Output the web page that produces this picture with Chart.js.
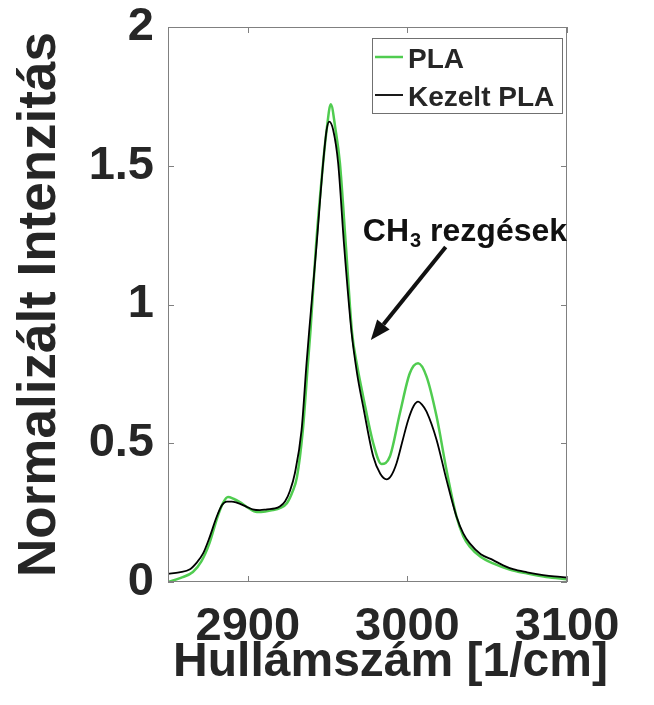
<!DOCTYPE html>
<html>
<head>
<meta charset="utf-8">
<title>PLA CH3</title>
<script src="https://cdn.jsdelivr.net/npm/chart.js@4.4.0/dist/chart.umd.min.js"></script>
<style>
  html, body { margin: 0; padding: 0; background: #fff; }
</style>
</head>
<body>
<canvas id="myChart" width="654" height="705"></canvas>
<script>
// data
const plaX = [2850, 2858, 2865.6, 2871, 2876, 2881, 2884.5, 2887.6, 2891, 2895, 2900, 2905.7, 2911, 2915.7, 2920, 2924.5, 2928, 2930.8, 2934.5, 2937.7, 2939.3, 2942.7, 2947.2, 2949.4, 2952, 2955, 2957.7, 2961.5, 2965.3, 2968.5, 2972.3, 2978.6, 2983.8, 2989, 2995.3, 3001.5, 3006.7, 3012, 3018.3, 3024.5, 3030.8, 3035, 3039.1, 3046, 3053.7, 3064, 3074.6, 3087, 3100];
const plaY = [0.00, 0.015, 0.036, 0.075, 0.14, 0.234, 0.285, 0.306, 0.300, 0.288, 0.268, 0.252, 0.254, 0.259, 0.266, 0.284, 0.325, 0.378, 0.548, 0.79, 0.908, 1.208, 1.51, 1.629, 1.722, 1.629, 1.51, 1.208, 0.90, 0.78, 0.668, 0.50, 0.425, 0.452, 0.608, 0.752, 0.788, 0.74, 0.596, 0.404, 0.235, 0.165, 0.127, 0.09, 0.067, 0.045, 0.031, 0.018, 0.01];

const kezeltX = [2850, 2857, 2863.8, 2868, 2872, 2876, 2880.5, 2884, 2886.8, 2890, 2893, 2899.3, 2903, 2907.6, 2912, 2917, 2920, 2923.3, 2926.5, 2929.5, 2933.7, 2936.8, 2938.5, 2943, 2947.2, 2949.4, 2951, 2953.5, 2956.6, 2960.4, 2965, 2968.5, 2972.3, 2978.6, 2983, 2986.9, 2990, 2993.2, 2997, 3000.5, 3004, 3006.7, 3009, 3012, 3018.3, 3024.5, 3030.8, 3035, 3039.1, 3046, 3053.7, 3060, 3066.2, 3075, 3085, 3092, 3100];
const kezeltY = [0.029, 0.035, 0.046, 0.07, 0.103, 0.16, 0.235, 0.278, 0.29, 0.290, 0.286, 0.271, 0.262, 0.259, 0.262, 0.265, 0.272, 0.29, 0.33, 0.392, 0.548, 0.788, 0.908, 1.208, 1.51, 1.629, 1.659, 1.629, 1.51, 1.208, 0.90, 0.75, 0.632, 0.452, 0.39, 0.37, 0.385, 0.428, 0.51, 0.584, 0.635, 0.65, 0.64, 0.614, 0.512, 0.368, 0.235, 0.175, 0.139, 0.10, 0.079, 0.06, 0.046, 0.035, 0.025, 0.02, 0.017];

const xTicks = [2900, 3000, 3100];
const yTicks = [0, 0.5, 1, 1.5, 2];
const seriesNames = ['PLA', 'Kezelt PLA'];

// annotation: text position and arrow (tail -> tip) in data units
const noteAt = { x: 2972.1, y: 1.229 };
const arrowFrom = { x: 3024, y: 1.207 };
const arrowTo = { x: 2977.1, y: 0.872 };

const FONT = "'Liberation Sans', Arial, sans-serif";
const TXT = '#262626';
const GREEN = '#50cc50';

const toPoints = (xs, ys) => xs.map((x, i) => ({ x: x, y: ys[i] }));

const extras = {
  id: 'extras',
  afterDraw(chart) {
    const ctx = chart.ctx;
    const ca = chart.chartArea;
    const sx = chart.scales.x, sy = chart.scales.y;
    ctx.save();

    // box + inward ticks
    ctx.strokeStyle = '#808080';
    ctx.lineWidth = 1;
    ctx.strokeRect(ca.left + 0.5, ca.top + 0.5, ca.right - ca.left - 1, ca.bottom - ca.top - 1);
    ctx.beginPath();
    xTicks.forEach(v => {
      const px = Math.round(sx.getPixelForValue(v)) + 0.5;
      ctx.moveTo(px, ca.bottom); ctx.lineTo(px, ca.bottom - 6);
      ctx.moveTo(px, ca.top); ctx.lineTo(px, ca.top + 6);
    });
    yTicks.forEach(v => {
      const py = Math.round(sy.getPixelForValue(v)) + 0.5;
      ctx.moveTo(ca.left, py); ctx.lineTo(ca.left + 6, py);
      ctx.moveTo(ca.right, py); ctx.lineTo(ca.right - 6, py);
    });
    ctx.stroke();

    // legend
    const lx = ca.right - 195, ly = ca.top + 11;
    ctx.fillStyle = '#fff';
    ctx.fillRect(lx, ly, 190, 75);
    ctx.strokeStyle = '#707070';
    ctx.strokeRect(lx + 0.5, ly + 0.5, 190, 75);
    const cols = [GREEN, '#000'];
    const widths = [2.5, 1.8];
    ctx.font = 'bold 28px ' + FONT;
    ctx.textAlign = 'left';
    ctx.textBaseline = 'alphabetic';
    seriesNames.forEach((name, i) => {
      const yy = ly + 19 + i * 38;
      ctx.strokeStyle = cols[i];
      ctx.lineWidth = widths[i];
      ctx.beginPath();
      ctx.moveTo(lx + 3, yy); ctx.lineTo(lx + 31, yy);
      ctx.stroke();
      ctx.fillStyle = TXT;
      ctx.fillText(name, lx + 36, yy + 11);
    });

    // annotation text
    let tx = sx.getPixelForValue(noteAt.x);
    const ty = sy.getPixelForValue(noteAt.y);
    ctx.fillStyle = '#111';
    ctx.font = 'bold 32px ' + FONT;
    ctx.fillText('CH', tx, ty);
    tx += ctx.measureText('CH').width + 1;
    ctx.font = 'bold 20px ' + FONT;
    ctx.fillText('3', tx, ty + 6);
    tx += ctx.measureText('3').width;
    ctx.font = 'bold 32px ' + FONT;
    ctx.fillText(' rezgések', tx, ty);

    // arrow
    const x0 = sx.getPixelForValue(arrowFrom.x), y0 = sy.getPixelForValue(arrowFrom.y);
    const x1 = sx.getPixelForValue(arrowTo.x), y1 = sy.getPixelForValue(arrowTo.y);
    const ang = Math.atan2(y1 - y0, x1 - x0);
    const hl = 20, hw = 8;
    const bx = x1 - hl * Math.cos(ang), by = y1 - hl * Math.sin(ang);
    ctx.strokeStyle = '#111';
    ctx.lineWidth = 4;
    ctx.beginPath();
    ctx.moveTo(x0, y0); ctx.lineTo(bx, by);
    ctx.stroke();
    ctx.fillStyle = '#111';
    ctx.beginPath();
    ctx.moveTo(x1, y1);
    ctx.lineTo(bx + hw * Math.sin(ang), by - hw * Math.cos(ang));
    ctx.lineTo(bx - hw * Math.sin(ang), by + hw * Math.cos(ang));
    ctx.closePath();
    ctx.fill();

    // axis titles
    ctx.fillStyle = TXT;
    ctx.font = 'bold 48px ' + FONT;
    ctx.textAlign = 'center';
    ctx.fillText('Hullámszám [1/cm]', (ca.left + ca.right) / 2 + 23, ca.bottom + 94);
    ctx.translate(55, (ca.top + ca.bottom) / 2);
    ctx.rotate(-Math.PI / 2);
    ctx.font = 'bold 53px ' + FONT;
    ctx.fillText('Normalizált Intenzitás', 0, 0);
    ctx.restore();
  }
};

const config = {
  type: 'line',
  data: {
    datasets: [
      {
        label: seriesNames[0],
        data: toPoints(plaX, plaY),
        borderColor: GREEN,
        borderWidth: 2.5,
        pointRadius: 0,
        cubicInterpolationMode: 'monotone',
        order: 1
      },
      {
        label: seriesNames[1],
        data: toPoints(kezeltX, kezeltY),
        borderColor: '#000',
        borderWidth: 1.8,
        pointRadius: 0,
        cubicInterpolationMode: 'monotone',
        order: 0
      }
    ]
  },
  options: {
    responsive: false,
    animation: false,
    layout: { padding: { top: 27, right: 87, left: 0, bottom: 0 } },
    plugins: {
      legend: { display: false },
      tooltip: { enabled: false }
    },
    scales: {
      x: {
        type: 'linear',
        min: 2850,
        max: 3100,
        afterBuildTicks: s => { s.ticks = xTicks.map(v => ({ value: v })); },
        afterFit: s => { s.height = 123; s.paddingLeft = 0; s.paddingRight = 0; },
        grid: { display: false, drawTicks: false },
        border: { display: false },
        ticks: {
          color: TXT,
          padding: 22,
          maxRotation: 0,
          autoSkip: false,
          callback: v => String(v),
          font: { family: FONT, size: 47, weight: 'bold', lineHeight: 1 }
        }
      },
      y: {
        min: 0,
        max: 2,
        afterBuildTicks: s => { s.ticks = yTicks.map(v => ({ value: v })); },
        afterFit: s => { s.width = 168; s.paddingTop = 0; s.paddingBottom = 0; },
        grid: { display: false, drawTicks: false },
        border: { display: false },
        ticks: {
          color: TXT,
          padding: 14,
          callback: v => String(v),
          font: { family: FONT, size: 47, weight: 'bold', lineHeight: 1 }
        }
      }
    }
  },
  plugins: [extras]
};

const myChart = new Chart(document.getElementById('myChart'), config);
</script>
</body>
</html>
